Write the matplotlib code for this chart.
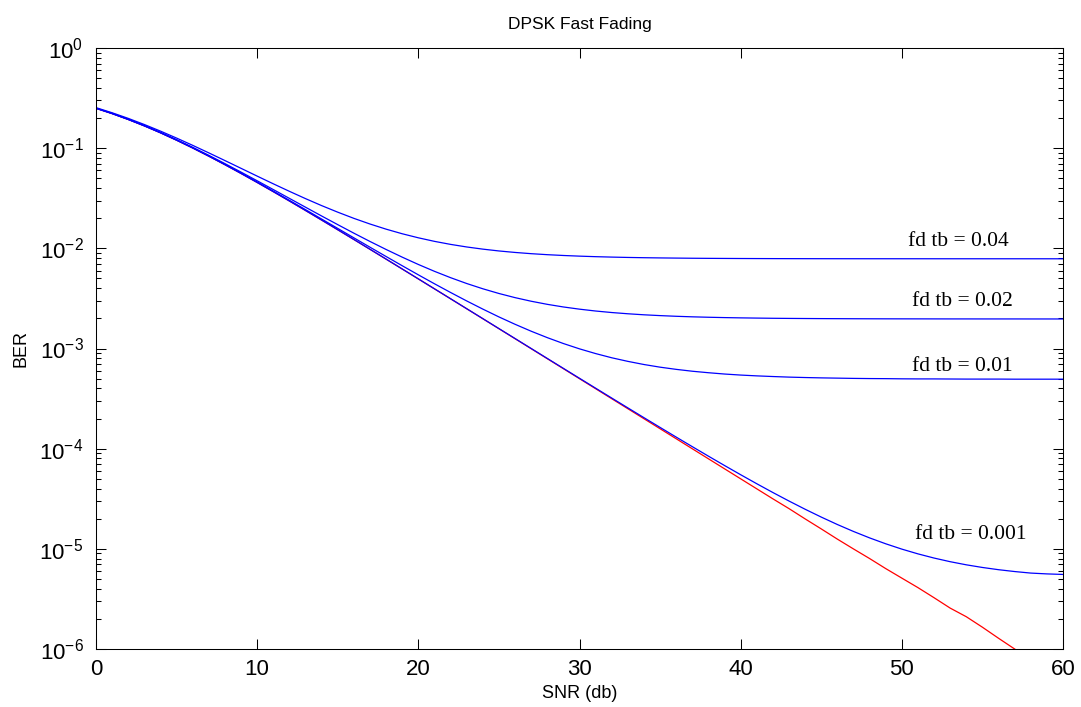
import matplotlib
matplotlib.use("Agg")
import matplotlib.pyplot as plt
from matplotlib.ticker import LogLocator, NullFormatter, FixedLocator

plt.rcParams['font.family'] = ['Liberation Sans', 'DejaVu Sans']
plt.rcParams['mathtext.fontset'] = 'custom'
plt.rcParams['mathtext.rm'] = 'Liberation Sans'
plt.rcParams['mathtext.it'] = 'Liberation Sans:italic'
plt.rcParams['mathtext.bf'] = 'Liberation Sans:bold'
plt.rcParams['axes.unicode_minus'] = False

snr_db = list(range(61))

ber_fd0 = [0.25, 0.2214, 0.1934, 0.1669, 0.1424, 0.1201, 0.1004, 0.08317, 0.0684, 0.05591,
           0.04545, 0.03679, 0.02968, 0.02386, 0.01914, 0.01533, 0.01225, 0.009781, 0.007801, 0.006216,
           0.00495, 0.00394, 0.003135, 0.002493, 0.001983, 0.001576, 0.001253, 0.0009956, 0.0007912, 0.0006287,
           0.0004995, 0.0003969, 0.0003153, 0.0002505, 0.000199, 0.0001581, 0.0001256, 9.974e-5, 7.923e-5, 6.294e-5,
           5.0e-5, 3.972e-5, 3.155e-5, 2.52e-5, 1.99e-5, 1.581e-5, 1.25e-5, 9.976e-6, 8.0e-6, 6.35e-6,
           5.1e-6, 4.1e-6, 3.25e-6, 2.56e-6, 2.1e-6, 1.65e-6, 1.28e-6, 1.0e-6, 7.9e-7, 6.3e-7, 5.0e-7]

ber_fd001 = [0.25, 0.2214, 0.1934, 0.1669, 0.1424, 0.1201, 0.1004, 0.08318, 0.06841, 0.05592,
             0.04546, 0.0368, 0.02969, 0.02387, 0.01915, 0.01533, 0.01226, 0.009786, 0.007806, 0.006221,
             0.004955, 0.003945, 0.00314, 0.002498, 0.001988, 0.001581, 0.001258, 0.001001, 0.0007961, 0.0006336,
             0.0005044, 0.0004018, 0.0003202, 0.0002554, 0.0002039, 0.000163, 0.0001305, 0.0001047, 8.416e-5, 6.787e-5,
             5.493e-5, 4.465e-5, 3.648e-5, 3.0e-5, 2.484e-5, 2.075e-5, 1.749e-5, 1.491e-5, 1.286e-5, 1.123e-5,
             9.935e-6, 8.907e-6, 8.09e-6, 7.44e-6, 6.925e-6, 6.516e-6, 6.19e-6, 5.933e-6, 5.727e-6, 5.62e-6, 5.55e-6]

ber_fd01 = [0.2502, 0.2216, 0.1937, 0.1673, 0.1427, 0.1205, 0.1008, 0.08358, 0.06882, 0.05634,
            0.0459, 0.03724, 0.03014, 0.02433, 0.01961, 0.0158, 0.01273, 0.01026, 0.008286, 0.006703,
            0.005438, 0.004429, 0.003625, 0.002984, 0.002474, 0.002067, 0.001745, 0.001488, 0.001284, 0.001121,
            0.000992, 0.00089, 0.000808, 0.000744, 0.000692, 0.000651, 0.000619, 0.000593, 0.000573, 0.000556,
            0.000543, 0.000533, 0.000525, 0.000518, 0.000513, 0.000509, 0.000506, 0.000503, 0.000501, 0.0005,
            0.000498, 0.000497, 0.000497, 0.000496, 0.000495, 0.000495, 0.000495, 0.000494, 0.000494, 0.000494, 0.000494]

ber_fd02 = [0.251, 0.2225, 0.1946, 0.1682, 0.1438, 0.1216, 0.102, 0.08481, 0.0701, 0.05766,
            0.04724, 0.03862, 0.03153, 0.02574, 0.02103, 0.01724, 0.01417, 0.01171, 0.009742, 0.008164,
            0.006902, 0.005896, 0.005095, 0.004455, 0.003947, 0.003542, 0.00322, 0.002964, 0.00276, 0.002598,
            0.00247, 0.002367, 0.002286, 0.002222, 0.00217, 0.00213, 0.002097, 0.002071, 0.002051, 0.002035,
            0.002022, 0.002012, 0.002003, 0.001997, 0.001992, 0.001988, 0.001985, 0.001982, 0.00198, 0.001978,
            0.001977, 0.001976, 0.001975, 0.001974, 0.001974, 0.001973, 0.001973, 0.001973, 0.001972, 0.001972, 0.001972]

ber_fd04 = [0.2539, 0.2257, 0.1983, 0.1722, 0.148, 0.1261, 0.1067, 0.08973, 0.07519, 0.0629,
            0.0526, 0.04407, 0.03708, 0.03135, 0.0267, 0.02296, 0.01992, 0.01749, 0.01554, 0.01398,
            0.01274, 0.01174, 0.01095, 0.01032, 0.009818, 0.009415, 0.009099, 0.008844, 0.008643, 0.008484,
            0.008357, 0.008256, 0.008176, 0.008111, 0.008061, 0.008022, 0.007991, 0.007962, 0.007942, 0.007927,
            0.007914, 0.007904, 0.007896, 0.007889, 0.007884, 0.00788, 0.007877, 0.007874, 0.007872, 0.007871,
            0.00787, 0.007869, 0.007868, 0.007867, 0.007867, 0.007866, 0.007866, 0.007866, 0.007865, 0.007865, 0.007865]

labels = ["fd tb = 0.04", "fd tb = 0.02", "fd tb = 0.01", "fd tb = 0.001"]
label_x = [50.4, 50.6, 50.6, 50.8]
label_y = [1.057e-2, 2.66e-3, 6.02e-4, 1.25e-5]

fig = plt.figure(figsize=(10.81, 7.07), dpi=100)
ax = fig.add_axes([96/1081, 1 - 649/707, (1063-96)/1081, (649-48)/707])

lw = 0.9
ax.semilogy(snr_db, ber_fd0, color='#ff0000', lw=lw)
for series in (ber_fd001, ber_fd01, ber_fd02, ber_fd04):
    ax.semilogy(snr_db, series, color='#0000ff', lw=lw)

for t, x, y in zip(labels, label_x, label_y):
    ax.text(x, y, t, family=['Liberation Serif', 'DejaVu Serif'], fontsize=15.5,
            ha='left', va='baseline')

ax.set_xlim(0, 60)
ax.set_ylim(1e-6, 1)
ax.xaxis.set_major_locator(FixedLocator([0, 10, 20, 30, 40, 50, 60]))
ax.yaxis.set_major_locator(LogLocator(base=10, numticks=10))
ax.yaxis.set_minor_locator(LogLocator(base=10, subs=range(2, 10), numticks=20))
ax.yaxis.set_minor_formatter(NullFormatter())

ax.tick_params(which='both', direction='in', top=True, right=True, width=0.75, colors='black')
ax.tick_params(which='major', length=7, labelsize=16)
ax.tick_params(axis='x', which='major', pad=7)
ax.tick_params(axis='y', which='major', pad=9)
ax.tick_params(which='minor', length=3.5)
for s in ax.spines.values():
    s.set_linewidth(0.75)

ax.set_title("DPSK Fast Fading", fontsize=12.5, pad=14)
ax.set_xlabel("SNR (db)", fontsize=13, labelpad=4)
ax.set_ylabel("BER", fontsize=13, labelpad=7)

fig.savefig("out.png", dpi=100, facecolor='white')
